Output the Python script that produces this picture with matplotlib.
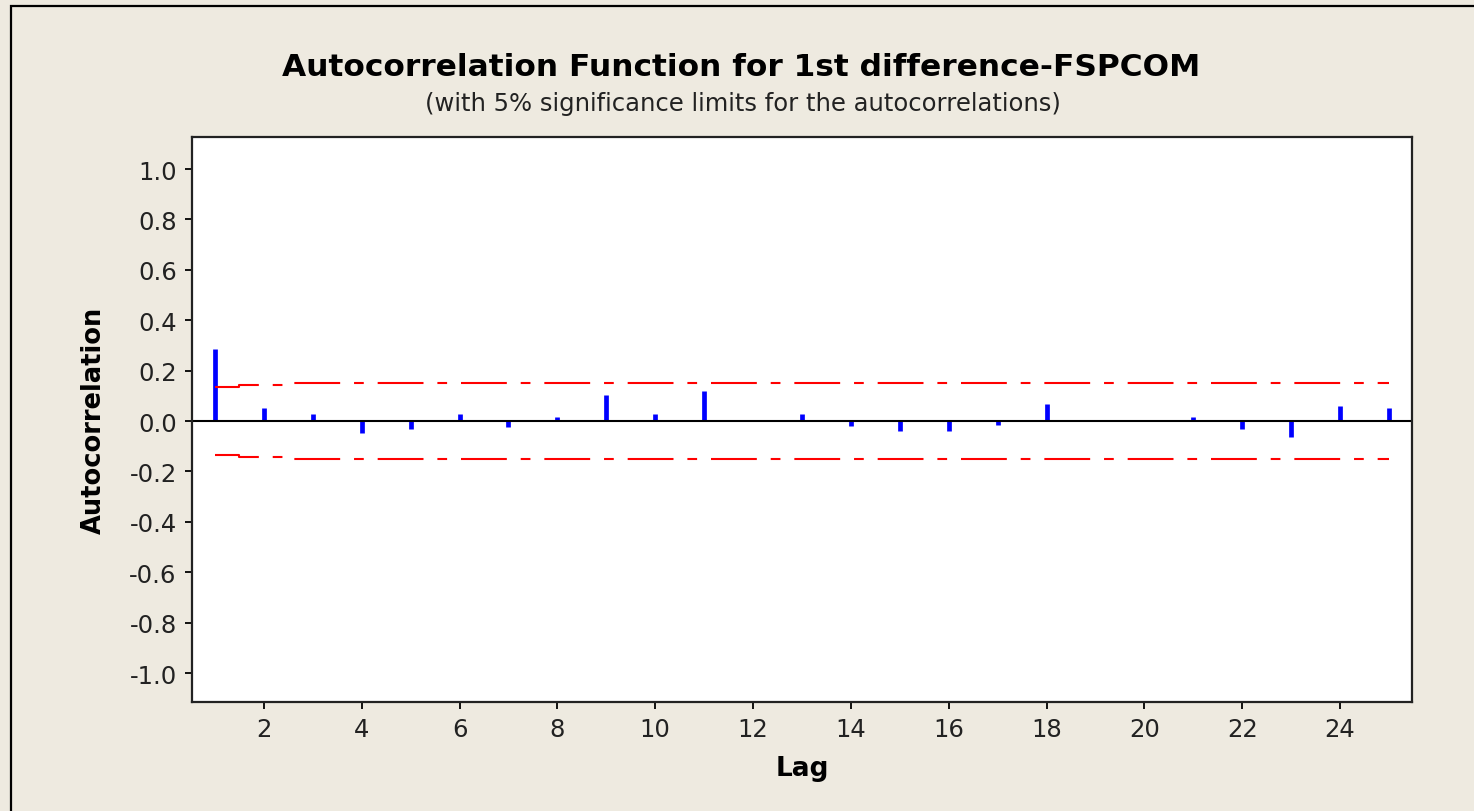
import numpy as np
import matplotlib.pyplot as plt
from matplotlib.patches import Rectangle

plt.rcParams['font.family'] = ['DejaVu Sans']
plt.rcParams['lines.scale_dashes'] = False

# datos
lags = list(range(1, 26))
acf = [0.287, 0.052, 0.027, -0.048, -0.032, 0.027, -0.023, 0.017, 0.103, 0.027,
       0.119, 0.0, 0.027, -0.021, -0.040, -0.040, -0.015, 0.069, 0.0, 0.0,
       0.017, -0.032, -0.065, 0.060, 0.052]
limites = [0.135, 0.143] + [0.151] * 23
yticks = [-1.0, -0.8, -0.6, -0.4, -0.2, 0.0, 0.2, 0.4, 0.6, 0.8, 1.0]
ytick_labels = ['-1.0', '-0.8', '-0.6', '-0.4', '-0.2', '0.0', '0.2', '0.4', '0.6', '0.8', '1.0']
xticks = list(range(2, 25, 2))

fondo = '#EEEAE0'
fig = plt.figure(figsize=(14.74, 8.12), dpi=100, facecolor=fondo)
# marco exterior
fig.patches.append(Rectangle((11 / 1474, -0.1), 1.2, 1 - 7 / 812 + 0.1,
                             transform=fig.transFigure, fill=False,
                             edgecolor='black', linewidth=1.6))

ax = fig.add_axes([192 / 1474, 1 - 703 / 812, (1412 - 192) / 1474, (703 - 138) / 812])
ax.set_facecolor('white')

ax.vlines(lags, 0, acf, colors='#0000FF', linewidth=3.4)
ax.axhline(0, color='black', linewidth=1.5)

patron = (0, (33, 10, 7, 10))
ax.plot(lags, limites, color='#FF0000', linewidth=1.5, linestyle=patron, drawstyle='steps-mid')
ax.plot(lags, [-v for v in limites], color='#FF0000', linewidth=1.5, linestyle=patron, drawstyle='steps-mid')

ax.set_xlim(0.53, 25.47)
ax.set_ylim(-1.115, 1.127)
ax.set_xticks(xticks)
ax.set_yticks(yticks)
ax.set_yticklabels(ytick_labels)
ax.tick_params(direction='out', length=5, width=1.3, labelsize=17.5, colors='black', labelcolor='#222222', pad=6)
for s in ax.spines.values():
    s.set_linewidth(1.6)
    s.set_color('#222222')

ax.set_xlabel('Lag', fontsize=19, fontweight='bold', labelpad=10)
ax.set_ylabel('Autocorrelation', fontsize=18.5, fontweight='bold', labelpad=16)

fig.text(0.503, 1 - 67 / 812, 'Autocorrelation Function for 1st difference-FSPCOM',
         ha='center', va='center', fontsize=22.5, fontweight='bold')
fig.text(0.504, 1 - 104 / 812, '(with 5% significance limits for the autocorrelations)',
         ha='center', va='center', fontsize=17.5, color='#222222')

fig.savefig('out.png', dpi=100, facecolor=fondo)
